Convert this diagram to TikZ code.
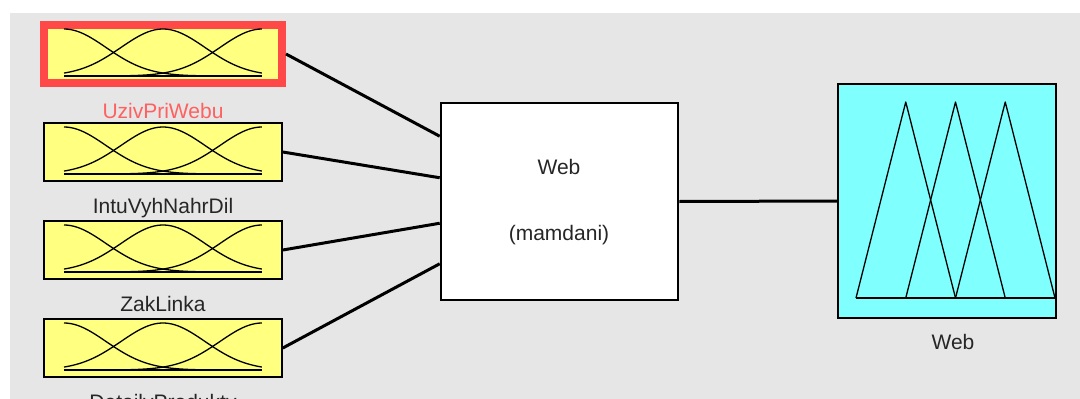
\documentclass[tikz,border=0pt]{standalone}
\usepackage{fontspec}
\setmainfont{Liberation Sans}
\usetikzlibrary{positioning,calc}

\definecolor{panelgray}{RGB}{230,230,230}
\definecolor{mfyellow}{RGB}{255,255,128}
\definecolor{mfcyan}{RGB}{128,255,255}
\definecolor{selred}{RGB}{255,72,72}
\definecolor{labelred}{RGB}{255,96,96}

\tikzset{
  inbox/.style={draw=black, line width=1.6pt, fill=mfyellow, minimum width=238pt, minimum height=58pt, inner sep=0pt},
  selbox/.style={inbox, draw=selred, line width=8pt},
  fisbox/.style={draw=black, line width=2.6pt, fill=white, minimum width=237pt, minimum height=197pt, inner sep=0pt},
  outbox/.style={draw=black, line width=1.6pt, fill=mfcyan, minimum width=218pt, minimum height=234pt, inner sep=0pt},
  lbl/.style={font=\fontsize{21}{24}\selectfont, text=black!85, inner sep=0pt},
  sellbl/.style={lbl, text=labelred},
  mfline/.style={black, line width=1.3pt, line join=round},
  wire/.style={black, line width=3pt}
}

\begin{document}
\begin{tikzpicture}[x=1pt, y=-1pt]

    \useasboundingbox (0,0) rectangle (1080,399);
    \clip (0,0) rectangle (1080,399);

    % Panel
    \fill[panelgray] (10,13) rectangle (1080,399);

    % Inputs
    \foreach \i/\y/\name/\bst/\lst in {1/54/UzivPriWebu/selbox/sellbl,
        2/152/IntuVyhNahrDil/inbox/lbl, 3/250/ZakLinka/inbox/lbl,
        4/348/DetailyProdukty/inbox/lbl} {
        \node[\bst] (in\i) at (163,\y) {};
        \node[\lst, below=16pt of in\i] (lab\i) {\name};
        \begin{scope}[shift={(in\i.center)}]
            \draw[mfline] (-99,22) -- (99,22);
            \foreach \c in {0,0.5,1}
                \draw[mfline] plot[domain=0:1, samples=60]
                    ({-99+198*\x}, {22-47*exp(-((\x-\c)^2)/0.0901)});
        \end{scope}
    }

    % FIS box
    \node[fisbox] (fis) at (559.5,201.5) {};
    \node[lbl] (fisname) at (559,167) {Web};
    \node[lbl] (fistype) at (559,235) {(mamdani)};

    % Input wires
    \foreach \i/\f in {1/0.173, 2/0.381, 3/0.609, 4/0.812}
        \draw[wire] (in\i.east) -- ($(fis.north west)!\f!(fis.south west)$);

    % Output
    \node[outbox] (out) at (947,201) {};
    \draw[wire] (fis.east) -- (out.west);
    \begin{scope}[shift={(out.center)}]
        \draw[mfline] (-91,97) -- (108,97);
        \foreach \a in {-91,-41.25,8.5}
            \draw[mfline] (\a,97) -- ++(49.75,-196) -- ++(49.75,196);
    \end{scope}
    \node[lbl] (outname) at (953,342) {Web};

\end{tikzpicture}
\end{document}
